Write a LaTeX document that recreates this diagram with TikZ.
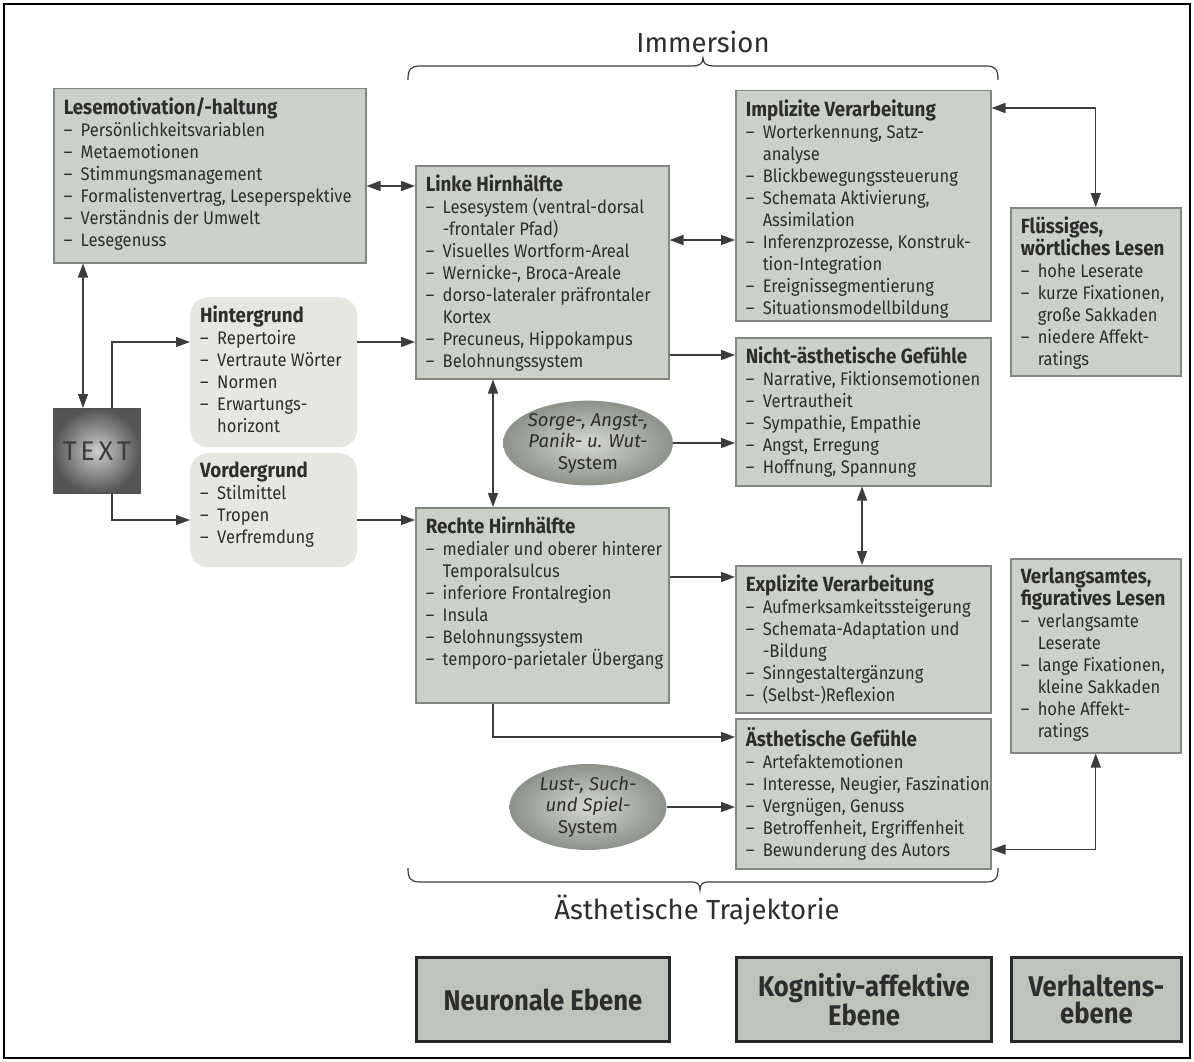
\documentclass[tikz,border=0pt]{standalone}
\usepackage{fontspec}
\setmainfont{Fira Sans}[FakeStretch=0.91]
\newfontfamily\condbold{Fira Sans}[FakeStretch=0.9]
\newfontfamily\plainff{Fira Sans}
\usetikzlibrary{arrows.meta,shapes.geometric,calc}
\definecolor{boxfill}{RGB}{203,209,201}
\definecolor{boxdraw}{RGB}{130,135,130}
\definecolor{softfill}{RGB}{229,232,223}
\definecolor{ink}{RGB}{45,45,45}
\definecolor{lineink}{RGB}{60,60,60}
\definecolor{levelfill}{RGB}{190,196,186}
\newcommand\hd[1]{{\fontsize{20.6}{22}\selectfont\bfseries #1}}
\newcommand\di[1]{\\\mbox{\makebox[17pt][l]{–}#1}}
\newcommand\ci[1]{\\\mbox{\hspace*{17pt}#1}}
\newcommand\bx[6]{\node[#5] (#1) at (#2) {\parbox[c][\dimexpr#4pt-18pt\relax][t]{\dimexpr#3pt-20pt\relax}{\raggedright #6}};}
\begin{document}
\begin{tikzpicture}[x=1pt,y=-1pt,
  every node/.style={text=ink},
  txt/.style={font=\fontsize{18.2}{22}\selectfont},
  box/.style={txt, draw=boxdraw, line width=1.5pt, fill=boxfill, inner xsep=10pt, inner ysep=9pt, anchor=north west},
  soft/.style={txt, fill=softfill, rounded corners=18pt, inner xsep=10pt, inner ysep=9pt, anchor=north west},
  con/.style={draw=lineink, line width=1.3pt},
  arr/.style={con, -{Triangle[length=14pt,width=10pt]}},
  darr/.style={con, {Triangle[length=14pt,width=10pt]}-{Triangle[length=14pt,width=10pt]}},
  brace/.style={draw=lineink, line width=1.2pt},
  sys/.style={ellipse, inner sep=0pt, inner color={rgb,255:red,214;green,217;blue,211}, outer color={rgb,255:red,140;green,145;blue,138}, align=center, font=\plainff\fontsize{18.5}{21.5}\selectfont},
  level/.style={draw={rgb,255:red,40;green,40;blue,40}, line width=3pt, fill=levelfill, anchor=north west, align=center, font=\condbold\bfseries\fontsize{28.5}{27}\selectfont},
  label/.style={font=\plainff\fontsize{27.5}{30}\selectfont}
]
\useasboundingbox (0,0) rectangle (1194,1062);
\fill[white] (0,0) rectangle (1194,1062);
\draw[line width=1.2pt] (4,4) rectangle (1190,1058);

% boxes
\bx{lese}{53,88}{312}{174}{box}{\hd{Lesemotivation/-haltung}
 \di{Persönlichkeitsvariablen}\di{Metaemotionen}\di{Stimmungsmanagement}
 \di{Formalistenvertrag, Leseperspektive}\di{Verständnis der Umwelt}\di{Lesegenuss}}
\bx{linke}{415,165}{253}{213}{box}{\hd{Linke Hirnhälfte}
 \di{Lesesystem (ventral-dorsal}\ci{-frontaler Pfad)}\di{Visuelles Wortform-Areal}
 \di{Wernicke-, Broca-Areale}\di{dorso-lateraler präfrontaler}\ci{Kortex}
 \di{Precuneus, Hippokampus}\di{Belohnungssystem}}
\bx{impl}{735,90}{255}{230}{box}{\hd{Implizite Verarbeitung}
 \di{Worterkennung, Satz-}\ci{analyse}\di{Blickbewegungssteuerung}
 \di{Schemata Aktivierung,}\ci{Assimilation}\di{Inferenzprozesse, Konstruk-}
 \ci{tion-Integration}\di{Ereignissegmentierung}\di{Situationsmodellbildung}}
\bx{fl}{1010,207}{170}{168}{box}{\hd{Flüssiges,\\wörtliches Lesen}
 \di{hohe Leserate}\di{kurze Fixationen,}\ci{große Sakkaden}\di{niedere Affekt-}\ci{ratings}}
\bx{hg}{190,297}{167}{150}{soft}{\hd{Hintergrund}
 \di{Repertoire}\di{Vertraute Wörter}\di{Normen}\di{Erwartungs-}\ci{horizont}}
\bx{vg}{190,453}{167}{114}{soft}{\hd{Vordergrund}
 \di{Stilmittel}\di{Tropen}\di{Verfremdung}}
\bx{nicht}{735,337}{255}{148}{box}{\hd{Nicht-ästhetische Gefühle}
 \di{Narrative, Fiktionsemotionen}\di{Vertrautheit}\di{Sympathie, Empathie}
 \di{Angst, Erregung}\di{Hoffnung, Spannung}}
\bx{rechte}{415,507}{253}{195}{box}{\hd{Rechte Hirnhälfte}
 \di{medialer und oberer hinterer}\ci{Temporalsulcus}\di{inferiore Frontalregion}
 \di{Insula}\di{Belohnungssystem}\di{temporo-parietaler Übergang}}
\bx{expl}{735,565}{255}{147}{box}{\hd{Explizite Verarbeitung}
 \di{Aufmerksamkeitssteigerung}\di{Schemata-Adaptation und}\ci{-Bildung}
 \di{Sinngestaltergänzung}\di{(Selbst-)Reflexion}}
\bx{verl}{1010,558}{170}{194}{box}{\hd{Verlangsamtes,\\figuratives Lesen}
 \di{verlangsamte}\ci{Leserate}\di{lange Fixationen,}\ci{kleine Sakkaden}
 \di{hohe Affekt-}\ci{ratings}}
\bx{aest}{735,718}{255}{150}{box}{\hd{Ästhetische Gefühle}
 \di{Artefaktemotionen}\di{Interesse, Neugier, Faszination}\di{Vergnügen, Genuss}
 \di{Betroffenheit, Ergriffenheit}\di{Bewunderung des Autors}}

% TEXT
\node[anchor=north west, minimum width=87pt, minimum height=85pt, inner sep=0pt,
  inner color={rgb,255:red,205;green,205;blue,205}, outer color={rgb,255:red,85;green,85;blue,85},
  draw={rgb,255:red,80;green,80;blue,80}, line width=0.8pt,
  font=\plainff\fontsize{27}{27}\selectfont\addfontfeatures{LetterSpace=14}, text={rgb,255:red,60;green,60;blue,60}]
  (tx) at (53,408) {TEXT};

% systems
\node[sys, minimum width=157pt, minimum height=84pt] (sorge) at (588,443)
  {\textit{Sorge-, Angst-,}\\\textit{Panik- u. Wut-}\\System};
\node[sys, minimum width=157pt, minimum height=80pt] (lust) at (588,807)
  {\textit{Lust-, Such-}\\\textit{und Spiel-}\\System};

% labels and braces
\node[label] (imm) at (703,42) {Immersion};
\node[label] (traj) at (697,910) {Ästhetische Trajektorie};
\draw[brace] (408,80) .. controls (408,70) and (410,66) .. (420,66) -- (692,66)
  .. controls (699,66) and (703,64) .. (703,58) .. controls (703,64) and (707,66) .. (714,66)
  -- (986,66) .. controls (996,66) and (998,70) .. (998,80);
\draw[brace] (408,868) .. controls (408,878) and (410,882) .. (420,882) -- (692,882)
  .. controls (697,882) and (700,884) .. (700,890) .. controls (700,884) and (703,882) .. (708,882)
  -- (986,882) .. controls (996,882) and (998,878) .. (998,868);

% level boxes
\node[level, minimum width=253pt, minimum height=84pt] (neur) at (415,956) {Neuronale Ebene};
\node[level, minimum width=255pt, minimum height=84pt] (kog) at (735,956) {Kognitiv-affektive\\Ebene};
\node[level, minimum width=170pt, minimum height=84pt] (verh) at (1010,956) {Verhaltens-\\ebene};

% connectors
\draw[darr] ([xshift=30pt]lese.south west) -- ([xshift=30pt]tx.north west);
\draw[darr] ([yshift=-98pt]lese.north east) -- ([yshift=-98pt]lese.north east -| linke.west);
\draw[arr] ([xshift=59pt]tx.north west) |- ([yshift=-45pt]hg.north west);
\draw[arr] ([yshift=-45pt]hg.north east) -- ([yshift=-45pt]hg.north east -| linke.west);
\draw[arr] ([xshift=59pt]tx.south west) |- ([yshift=-67pt]vg.north west);
\draw[arr] ([yshift=-67pt]vg.north east) -- ([yshift=-67pt]vg.north east -| rechte.west);
\draw[darr] ([xshift=78pt]linke.south west) -- ([xshift=78pt]rechte.north west);
\draw[darr] ([yshift=-75pt]linke.north east) -- ([yshift=-75pt]linke.north east -| impl.west);
\draw[arr] ([yshift=-18pt]nicht.north west -| linke.east) -- ([yshift=-18pt]nicht.north west);
\draw[arr] (sorge.east) -- (sorge.east -| nicht.west);
\draw[darr] ([xshift=127pt]nicht.south west) -- ([xshift=127pt]expl.north west);
\draw[arr] ([yshift=-12pt]expl.north west -| rechte.east) -- ([yshift=-12pt]expl.north west);
\draw[arr] ([xshift=78pt]rechte.south west) |- ([yshift=-19pt]aest.north west);
\draw[arr] (lust.east) -- (lust.east -| aest.west);
\draw[darr] ([yshift=-18pt]impl.north east) -| (fl.north);
\draw[darr] ([yshift=20pt]aest.south east) -| (verl.south);
\end{tikzpicture}
\end{document}
